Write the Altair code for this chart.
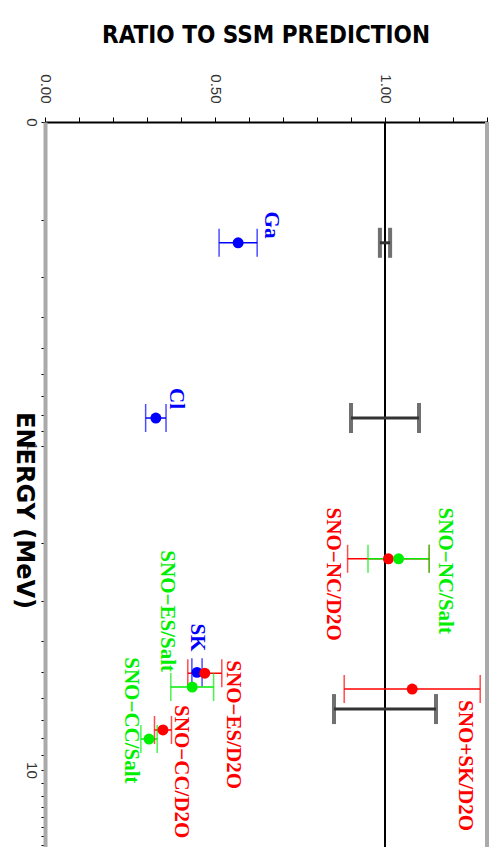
import altair as alt
import pandas as pd

# ---- measured rates (ratio to SSM) ----
names = ["Ga", "Cl", "SNO-ES/Salt", "SK", "SNO-ES/D2O", "SNO-NC/D2O",
         "SNO-NC/Salt", "SNO+SK/D2O", "SNO-CC/D2O", "SNO-CC/Salt"]
energy = [0.236, 0.82, 5.55, 5.0, 5.03, 2.23, 2.23, 5.63, 7.53, 8.03]
ratio = [0.568, 0.326, 0.433, 0.447, 0.47, 1.01, 1.04, 1.08, 0.347, 0.306]
err = [0.056, 0.03, 0.063, 0.015, 0.05, 0.12, 0.09, 0.2, 0.025, 0.024]
group = ["blue", "blue", "green", "blue", "red", "red", "green", "red", "red", "green"]

# ---- SSM theoretical uncertainty bars ----
ssm_energy = [0.236, 0.82, 6.49]
ssm_ratio = [1.0, 1.0, 1.0]
ssm_err = [0.015, 0.1, 0.15]

# ---- labels ----
label_text = ["Ga", "Cl", "SNO\u2212NC/Salt", "SNO\u2212NC/D2O", "SNO+SK/D2O",
              "SNO\u2212ES/D2O", "SK", "SNO\u2212ES/Salt", "SNO\u2212CC/D2O", "SNO\u2212CC/Salt"]
label_ratio = [0.665, 0.385, 1.176, 0.847, 1.235, 0.553, 0.447, 0.359, 0.40, 0.253]
label_energy = [0.189, 0.663, 1.55, 1.55, 6.09, 4.59, 3.53, 2.10, 6.31, 4.49]
label_group = ["blue", "blue", "green", "red", "red", "red", "blue", "green", "red", "green"]

ratio_ticks = [0, 0.1, 0.2, 0.3, 0.4, 0.5, 0.6, 0.7, 0.8, 0.9, 1.0, 1.1, 1.2, 1.3]
energy_ticks = [0.1, 0.2, 0.3, 0.4, 0.5, 0.6, 0.7, 0.8, 0.9,
                1, 2, 3, 4, 5, 6, 7, 8, 9, 10, 11, 12, 13, 14, 15, 16, 17]

meas = pd.DataFrame({"name": names, "energy": energy, "ratio": ratio, "err": err, "group": group})
meas["lo"] = meas["ratio"] - meas["err"]
meas["hi"] = meas["ratio"] + meas["err"]

ssm = pd.DataFrame({"energy": ssm_energy, "ratio": ssm_ratio, "err": ssm_err})
ssm["lo"] = ssm["ratio"] - ssm["err"]
ssm["hi"] = ssm["ratio"] + ssm["err"]

labels = pd.DataFrame({"text": label_text, "ratio": label_ratio,
                       "energy": label_energy, "group": label_group})

ref = pd.DataFrame({"ref": [1.0]})
frame = pd.DataFrame({"edge": [1.3]})

color = alt.Color("group:N", scale=alt.Scale(domain=["blue", "red", "green"],
                                             range=["#0000ff", "#ff0000", "#00ee00"]),
                  legend=None)

xscale = alt.Scale(domain=[0, 1.3], nice=False, zero=False)
yscale = alt.Scale(type="log", domain=[0.1, 17.3], nice=False, reverse=True)

xaxis = alt.Axis(orient="top", values=ratio_ticks,
                 labelExpr="datum.value==0||datum.value==0.5||datum.value==1 ? format(datum.value,'.2f') : ''",
                 labelAngle=90, labelAlign="right", labelBaseline="middle",
                 labelFont="Liberation Sans", labelFontSize=15, labelColor="#333",
                 labelPadding=14, tickSize=5, tickColor="black", domainColor="black",
                 domainWidth=2, grid=False, title=None)

yaxis = alt.Axis(orient="left", values=energy_ticks,
                 labelExpr="datum.value==0.1 ? '0' : datum.value==1 ? '1' : datum.value==10 ? '10' : ''",
                 labelAngle=90, labelAlign="center", labelBaseline="top",
                 labelFont="Liberation Sans", labelFontSize=15, labelColor="#333",
                 labelPadding=3, tickSize=4, tickColor="black",
                 domainColor="#aaaaaa", domainWidth=4, grid=False,
                 title="ENERGY (MeV)", titleAngle=90, titleFont="DejaVu Sans",
                 titleFontSize=24, titleFontWeight="bold", titleColor="black",
                 titleX=-22, titleY=388, titleAlign="center", titleBaseline="middle")

X = alt.X("ratio:Q", scale=xscale, axis=xaxis)
Y = alt.Y("energy:Q", scale=yscale, axis=yaxis)

edge_line = alt.Chart(frame).mark_rule(color="#aaaaaa", strokeWidth=4).encode(
    x=alt.X("edge:Q", scale=xscale, axis=xaxis))
ref_line = alt.Chart(ref).mark_rule(color="black", strokeWidth=2).encode(
    x=alt.X("ref:Q", scale=xscale, axis=xaxis))

ssm_bar = alt.Chart(ssm).mark_rule(color="#333", strokeWidth=3).encode(
    x=alt.X("lo:Q", scale=xscale, axis=xaxis), x2="hi:Q", y=Y)
ssm_cap_lo = alt.Chart(ssm).mark_tick(orient="vertical", color="#333", size=30, thickness=4).encode(
    x=alt.X("lo:Q", scale=xscale, axis=xaxis), y=Y)
ssm_cap_hi = alt.Chart(ssm).mark_tick(orient="vertical", color="#333", size=30, thickness=4).encode(
    x=alt.X("hi:Q", scale=xscale, axis=xaxis), y=Y)

bar = alt.Chart(meas).mark_rule(strokeWidth=1.5).encode(
    x=alt.X("lo:Q", scale=xscale, axis=xaxis), x2="hi:Q", y=Y, color=color)
cap_lo = alt.Chart(meas).mark_tick(orient="vertical", size=28, thickness=1.5).encode(
    x=alt.X("lo:Q", scale=xscale, axis=xaxis), y=Y, color=color)
cap_hi = alt.Chart(meas).mark_tick(orient="vertical", size=28, thickness=1.5).encode(
    x=alt.X("hi:Q", scale=xscale, axis=xaxis), y=Y, color=color)
pts = alt.Chart(meas).mark_circle(size=120, opacity=1).encode(x=X, y=Y, color=color)

txt = alt.Chart(labels).mark_text(angle=90, align="left", baseline="middle",
                                  font="Liberation Serif", fontWeight="bold",
                                  fontSize=21).encode(
    x=X, y=Y, text="text:N", color=color)

chart = alt.layer(edge_line, ref_line, ssm_bar, ssm_cap_lo, ssm_cap_hi,
                  bar, cap_lo, cap_hi, pts, txt).properties(
    width=442, height=725,
    title=alt.TitleParams("RATIO TO SSM PREDICTION",
                          font="Liberation Sans Narrow, DejaVu Sans Condensed, sans-serif",
                          fontSize=24, fontWeight="bold", color="black",
                          anchor="middle", offset=26),
    autosize=alt.AutoSizeParams(type="none"),
    padding={"left": 37, "top": 114, "right": 4, "bottom": 0},
).configure_view(stroke=None)

chart.save("out.html", embed_options={"renderer": "svg", "actions": False})
